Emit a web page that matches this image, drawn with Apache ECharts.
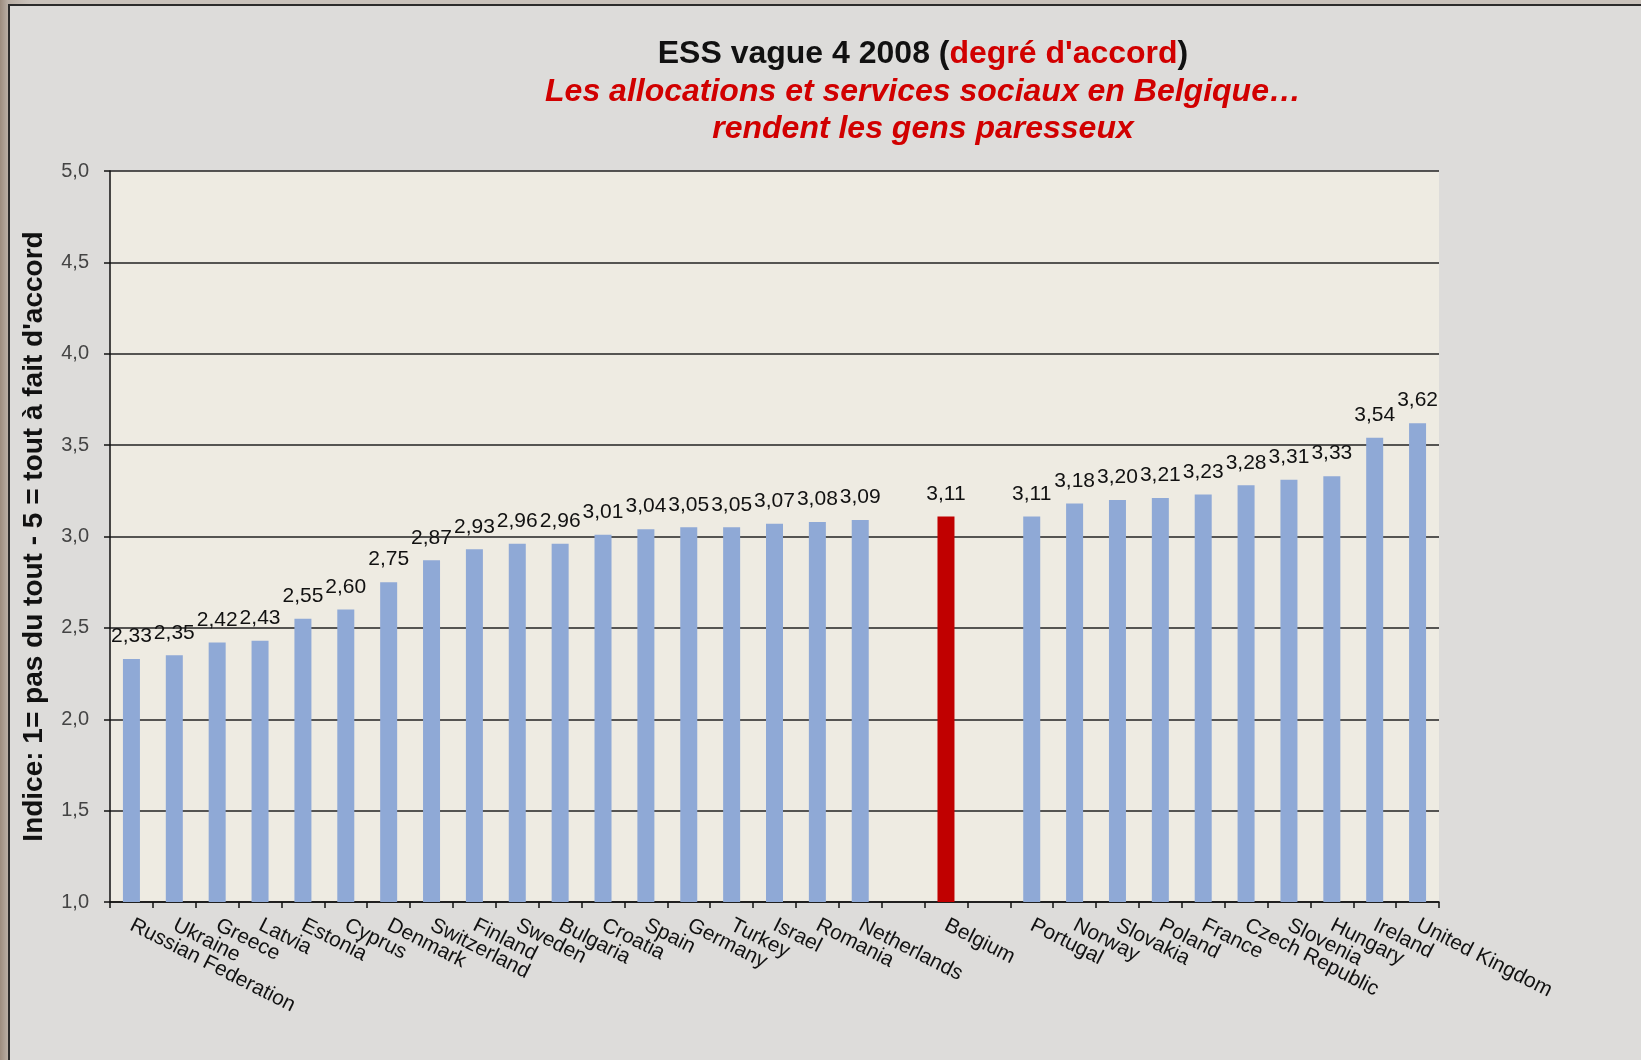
<!DOCTYPE html>
<html>
<head>
<meta charset="utf-8">
<script src="https://cdn.jsdelivr.net/npm/echarts@6/dist/echarts.min.js"></script>
<style>
  html, body { margin: 0; padding: 0; width: 1641px; height: 1060px; overflow: hidden;
    background: linear-gradient(90deg, #9c8c7e 0px, #b9aea4 8px, #c9c2bb 30px); }
  #frame { position: absolute; left: 8px; top: 4px; width: 1633px; height: 1056px;
    background: #dddcda; border-left: 2px solid #2b2b2b; border-top: 2px solid #2b2b2b; box-sizing: border-box; }
  #chart { position: absolute; left: 0; top: 0; width: 1641px; height: 1060px; }
</style>
</head>
<body>
<div id="frame"></div>
<div id="chart"></div>
<script>
const categories = ['Russian Federation','Ukraine','Greece','Latvia','Estonia','Cyprus','Denmark','Switzerland','Finland','Sweden','Bulgaria','Croatia','Spain','Germany','Turkey','Israel','Romania','Netherlands',' ','Belgium','  ','Portugal','Norway','Slovakia','Poland','France','Czech Republic','Slovenia','Hungary','Ireland','United Kingdom'];
const values = [2.33,2.35,2.42,2.43,2.55,2.60,2.75,2.87,2.93,2.96,2.96,3.01,3.04,3.05,3.05,3.07,3.08,3.09,null,3.11,null,3.11,3.18,3.20,3.21,3.23,3.28,3.31,3.33,3.54,3.62];
const highlight = 'Belgium';
const yTicks = { min: 1, max: 5, interval: 0.5 };

const font = 'Arial, "Liberation Sans", sans-serif';
const barData = values.map((v, i) => ({
  value: v,
  itemStyle: { color: categories[i] === highlight ? '#c00000' : '#8fa9d6' }
}));

const chart = echarts.init(document.getElementById('chart'), null, { renderer: 'canvas' });
chart.setOption({
  backgroundColor: 'transparent',
  animation: false,
  title: [
    {
      text: '{b|ESS vague 4 2008 (}{r|degré d\'accord}{b|)}',
      left: 918, top: 33, textAlign: 'center',
      textStyle: {
        rich: {
          b: { fontFamily: font, fontWeight: 'bold', fontSize: 32, color: '#111' },
          r: { fontFamily: font, fontWeight: 'bold', fontSize: 32, color: '#d10000' }
        }
      }
    },
    {
      text: 'Les allocations et services sociaux en Belgique…\nrendent les gens paresseux',
      left: 918, top: 69, textAlign: 'center',
      textStyle: { fontFamily: font, fontWeight: 'bold', fontStyle: 'italic', fontSize: 32, lineHeight: 37, color: '#d10000' }
    }
  ],
  grid: { left: 110, right: 202, top: 171, bottom: 158, show: true, backgroundColor: '#eeebe2', borderWidth: 0 },
  xAxis: {
    type: 'category',
    data: categories,
    boundaryGap: true,
    axisLine: { show: true, lineStyle: { color: '#111', width: 1.5 } },
    axisTick: { show: true, interval: 0, length: 6, lineStyle: { color: '#111', width: 1.5 } },
    axisLabel: { interval: 0, rotate: -27, margin: 22, fontFamily: font, fontSize: 21, color: '#111' }
  },
  yAxis: {
    type: 'value',
    min: yTicks.min, max: yTicks.max, interval: yTicks.interval,
    name: 'Indice: 1= pas du tout - 5 = tout à fait d\'accord',
    nameLocation: 'middle', nameGap: 62, nameRotate: 90,
    nameTextStyle: { fontFamily: font, fontWeight: 'bold', fontSize: 28, color: '#111' },
    axisLine: { show: true, lineStyle: { color: '#111', width: 1.5 } },
    axisTick: { show: true, length: 6, lineStyle: { color: '#111', width: 1.5 } },
    axisLabel: { margin: 21, fontFamily: font, fontSize: 20, color: '#444',
      formatter: v => v.toFixed(1).replace('.', ',') },
    splitLine: { show: true, lineStyle: { color: '#222', width: 1.5 } }
  },
  series: [{
    type: 'bar',
    data: barData,
    barWidth: 17,
    label: {
      show: true, position: 'top', distance: 12,
      fontFamily: font, fontSize: 21, color: '#111',
      formatter: p => p.value == null ? '' : p.value.toFixed(2).replace('.', ',')
    }
  }]
});
</script>
</body>
</html>
